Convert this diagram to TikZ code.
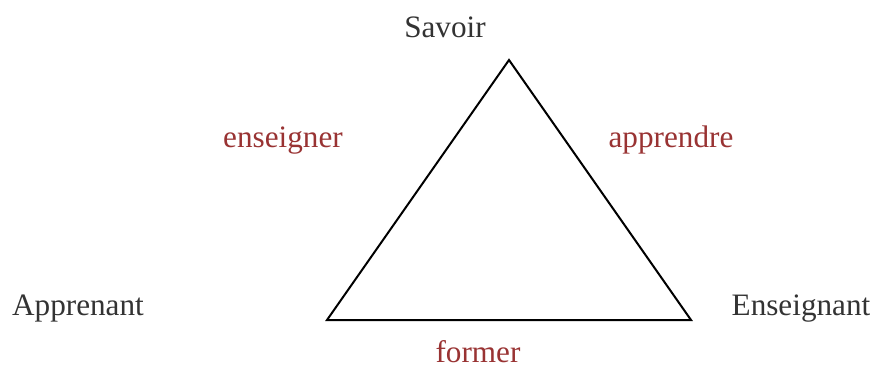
\documentclass[tikz,border=0pt]{standalone}
\usepackage{fontspec}
\setmainfont{Liberation Serif}
\usepackage{tikz}
\usetikzlibrary{positioning}

\definecolor{pole}{HTML}{333333}
\definecolor{verbe}{HTML}{993333}

\begin{document}
\begin{tikzpicture}[
  x=0.5pt, y=-0.5pt,
  pole/.style={anchor=base, text=pole, font=\fontsize{15.6}{18}\selectfont, inner sep=0pt},
  verbe/.style={pole, text=verbe},
  cote/.style={draw=black, line width=1pt, line join=miter}
]
\useasboundingbox (0,0) rectangle (874,369);
\coordinate (sommet) at (509,60);
\coordinate (gauche) at (327,320);
\coordinate (droite) at (691,320);

\node[pole] (savoir) at (445,38) {Savoir};
\node[pole] (apprenant) at (78,315) {Apprenant};
\node[pole] (enseignant) at (801,315) {Enseignant};
\node[verbe] (enseigner) at (283,148) {enseigner};
\node[verbe] (apprendre) at (671,148) {apprendre};
\node[verbe, text depth=0pt] (former) at (478,363) {former};

\draw[cote] (sommet) -- (gauche) -- (droite) -- cycle;
\end{tikzpicture}
\end{document}
